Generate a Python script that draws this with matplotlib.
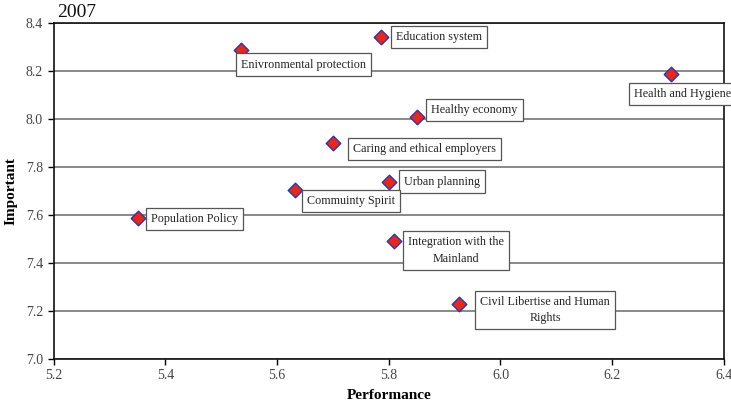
import matplotlib
matplotlib.use('Agg')
import matplotlib.pyplot as plt

# 2007 survey: performance vs importance per policy area
labels = ['Enivronmental protection', 'Education system', 'Health and Hygiene',
          'Healthy economy', 'Caring and ethical employers', 'Urban planning',
          'Commuinty Spirit', 'Population Policy', 'Integration with the\nMainland',
          'Civil Libertise and Human\nRights']
performance = [5.536, 5.786, 6.305, 5.851, 5.700, 5.800, 5.632, 5.351, 5.809, 5.926]
important = [8.286, 8.342, 8.186, 8.006, 7.899, 7.738, 7.703, 7.586, 7.492, 7.228]

# label placement (offset in pixels from the marker, horizontal alignment)
offsets = [(0, -14.5, 'left'), (15, 0, 'left'), (-37, -20, 'left'), (14, 7, 'left'),
           (20, -6, 'left'), (15, 0, 'left'), (12, -11, 'left'), (13, -1, 'left'),
           (62, -10, 'center'), (86, -6, 'center')]

plt.rcParams['font.family'] = 'Liberation Serif'

fig = plt.figure(figsize=(7.31, 4.05), dpi=100)
ax = fig.add_axes([0.0732, 0.1143, 0.9172, 0.8297])

ax.scatter(performance, important, marker='D', s=55, color='#e02a1f',
           edgecolors='#3a2fa0', linewidths=1.0, zorder=3)

for lab, x, y, (dx, dy, ha) in zip(labels, performance, important, offsets):
    ax.annotate(lab, (x, y), xytext=(dx, dy), textcoords='offset pixels',
                ha=ha, va='center', fontsize=8.7, color='#222222',
                linespacing=1.5, annotation_clip=False,
                bbox=dict(boxstyle='square,pad=0.42', fc='white', ec='#555555', lw=0.9),
                zorder=4)

ax.set_xlim(5.2, 6.4)
ax.set_ylim(7.0, 8.4)
ax.set_xticks([5.2, 5.4, 5.6, 5.8, 6.0, 6.2, 6.4])
ax.set_yticks([7.0, 7.2, 7.4, 7.6, 7.8, 8.0, 8.2, 8.4])
ax.set_xticklabels(['5.2', '5.4', '5.6', '5.8', '6.0', '6.2', '6.4'])
ax.set_yticklabels(['7.0', '7.2', '7.4', '7.6', '7.8', '8.0', '8.2', '8.4'])
ax.yaxis.grid(True, color='#808080', lw=1.3)
ax.set_axisbelow(True)
ax.tick_params(labelsize=10, labelcolor='#444444', length=4, width=1, direction='out')
for s in ax.spines.values():
    s.set_color('#111111')
    s.set_linewidth(1.2)

ax.set_xlabel('Performance', fontsize=11, fontweight='bold', labelpad=5)
ax.set_ylabel('Important', fontsize=11, fontweight='bold', labelpad=6)
fig.text(0.078, 0.958, '2007', fontsize=14, color='#111111')

fig.savefig('out.png', dpi=100)
